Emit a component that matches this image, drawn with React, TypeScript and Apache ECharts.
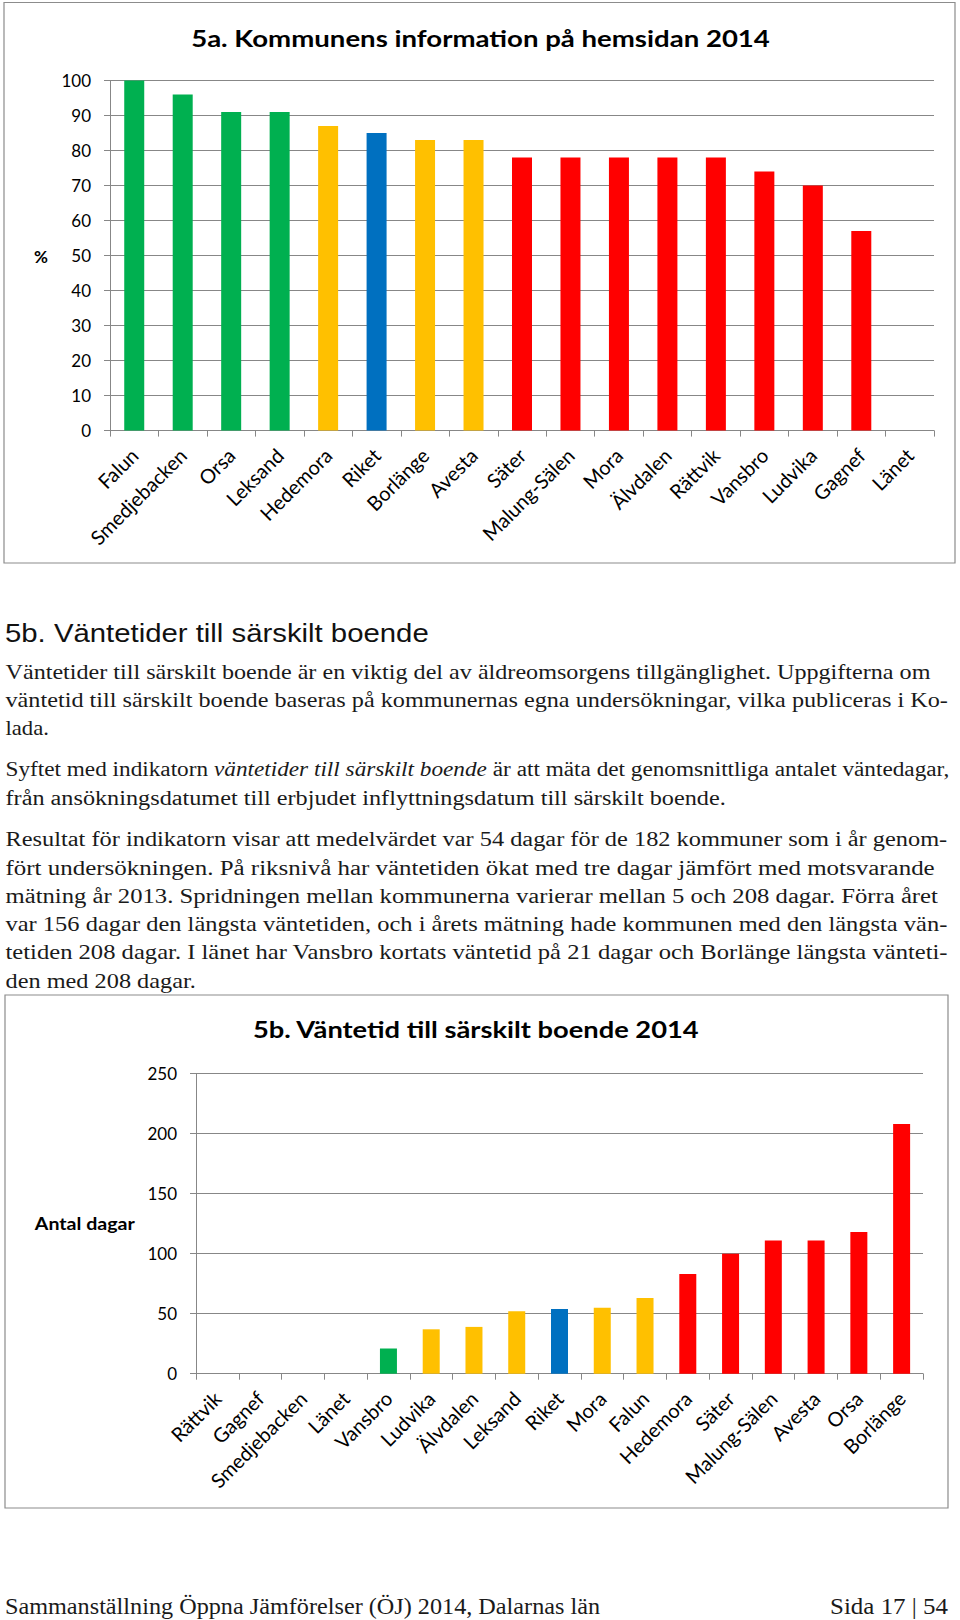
import React, { useEffect, useRef } from 'react';
import * as echarts from 'echarts';

// ---- Data: chart 5a ----
const cat5a = ['Falun', 'Smedjebacken', 'Orsa', 'Leksand', 'Hedemora', 'Riket', 'Borlänge', 'Avesta', 'Säter', 'Malung-Sälen', 'Mora', 'Älvdalen', 'Rättvik', 'Vansbro', 'Ludvika', 'Gagnef', 'Länet'];
const val5a: (number | null)[] = [100, 96, 91, 91, 87, 85, 83, 83, 78, 78, 78, 78, 78, 74, 70, 57, null];
const grp5a = ['green', 'green', 'green', 'green', 'yellow', 'riket', 'yellow', 'yellow', 'red', 'red', 'red', 'red', 'red', 'red', 'red', 'red', 'none'];
const yMax5a = 100;
const yStep5a = 10;

// ---- Data: chart 5b ----
const cat5b = ['Rättvik', 'Gagnef', 'Smedjebacken', 'Länet', 'Vansbro', 'Ludvika', 'Älvdalen', 'Leksand', 'Riket', 'Mora', 'Falun', 'Hedemora', 'Säter', 'Malung-Sälen', 'Avesta', 'Orsa', 'Borlänge'];
const val5b: (number | null)[] = [null, null, null, null, 21, 37, 39, 52, 54, 55, 63, 83, 100, 111, 111, 118, 208];
const grp5b = ['none', 'none', 'none', 'none', 'green', 'yellow', 'yellow', 'yellow', 'riket', 'yellow', 'yellow', 'red', 'red', 'red', 'red', 'red', 'red'];
const yMax5b = 250;
const yStep5b = 50;

// ---- Texts ----
const title5a = '5a. Kommunens information på hemsidan 2014';
const title5b = '5b. Väntetid till särskilt boende 2014';
const yName5a = '%';
const yName5b = 'Antal dagar';
const heading = '5b. Väntetider till särskilt boende';
const bodyLines: string[] = [
  '{n|Väntetider till särskilt boende är en viktig del av äldreomsorgens tillgänglighet. Uppgifterna om}',
  '{n|väntetid till särskilt boende baseras på kommunernas egna undersökningar, vilka publiceras i Ko-}',
  '{n|lada.}',
  '{n|Syftet med indikatorn }{i|väntetider till särskilt boende}{n| är att mäta det genomsnittliga antalet väntedagar,}',
  '{n|från ansökningsdatumet till erbjudet inflyttningsdatum till särskilt boende.}',
  '{n|Resultat för indikatorn visar att medelvärdet var 54 dagar för de 182 kommuner som i år genom-}',
  '{n|fört undersökningen. På riksnivå har väntetiden ökat med tre dagar jämfört med motsvarande}',
  '{n|mätning år 2013. Spridningen mellan kommunerna varierar mellan 5 och 208 dagar. Förra året}',
  '{n|var 156 dagar den längsta väntetiden, och i årets mätning hade kommunen med den längsta vän-}',
  '{n|tetiden 208 dagar. I länet har Vansbro kortats väntetid på 21 dagar och Borlänge längsta vänteti-}',
  '{n|den med 208 dagar.}',
];
const footerLeft = 'Sammanställning Öppna Jämförelser (ÖJ) 2014, Dalarnas län';
const footerRight = 'Sida 17 | 54';

// ---- Layout (page positions, not data) ----
const bodyY = [672, 700, 728.5, 770, 798, 839, 868, 896, 924, 952.5, 981.5];
const bodyRight = [930.7, 948, 49, 949, 726, 948, 935, 938, 948, 949, 196];
const BODY_X = 5.5;

const groupColor: Record<string, string> = {
  green: '#00B050',
  yellow: '#FFC000',
  riket: '#0070C0',
  red: '#FF0000',
  none: 'transparent',
};

const FONT = 'Lato';
const SERIF = 'Liberation Serif';
const SANS = 'Liberation Sans';
const GRID = '#878787';

function barData(vals: (number | null)[], grps: string[]) {
  return vals.map((v, i) => ({ value: v, itemStyle: { color: groupColor[grps[i]] } }));
}

function xAxisOpt(gridIndex: number, cats: string[]) {
  return {
    type: 'category',
    gridIndex,
    data: cats,
    boundaryGap: true,
    axisLine: { show: true, lineStyle: { color: GRID, width: 1 } },
    axisTick: { show: true, length: 6, lineStyle: { color: GRID, width: 1 }, interval: 0 },
    axisLabel: { rotate: 45, interval: 0, margin: 21, color: '#000', fontFamily: FONT, fontSize: 20 },
    splitLine: { show: false },
  };
}

function yAxisOpt(gridIndex: number, max: number, step: number) {
  return {
    type: 'value',
    gridIndex,
    min: 0,
    max,
    interval: step,
    axisLine: { show: true, lineStyle: { color: GRID, width: 1 } },
    axisTick: { show: true, length: 6, inside: false, lineStyle: { color: GRID, width: 1 } },
    axisLabel: { margin: 19, color: '#000', fontFamily: FONT, fontSize: 17 },
    splitLine: { show: true, lineStyle: { color: GRID, width: 1 } },
  };
}

export default function App() {
  const ref = useRef<HTMLDivElement>(null);
  useEffect(() => {
    if (!ref.current) return;
    const ctx = document.createElement('canvas').getContext('2d') as CanvasRenderingContext2D;
    const measure = (s: string, family: string, size: number, weight = 'normal', style = 'normal') => {
      ctx.font = `${style} ${weight} ${size}px "${family}"`;
      return ctx.measureText(s).width;
    };
    const fit = (s: string, family: string, size: number, target: number, weight = 'normal') => {
      const w = measure(s, family, size, weight);
      return w > 0 ? target / w : 1;
    };

    const chart = echarts.init(ref.current, undefined, { renderer: 'svg' });
    const BODY_SIZE = 20;
    const richStyles = {
      n: { fontFamily: SERIF, fontSize: BODY_SIZE, fill: '#1a1a1a' },
      i: { fontFamily: SERIF, fontSize: BODY_SIZE, fontStyle: 'italic', fill: '#1a1a1a' },
    };
    const bodyTexts = bodyLines.map((t, k) => {
      let w = 0;
      const re = /\{(\w)\|([^}]*)\}/g;
      let m: RegExpExecArray | null;
      while ((m = re.exec(t))) {
        w += measure(m[2], SERIF, BODY_SIZE, 'normal', m[1] === 'i' ? 'italic' : 'normal');
      }
      const sx = w > 0 ? (bodyRight[k] - BODY_X) / w : 1;
      return {
        type: 'text',
        x: BODY_X,
        y: bodyY[k],
        scaleX: sx,
        style: {
          text: t,
          rich: richStyles,
          textVerticalAlign: 'middle',
          textAlign: 'left',
          fontFamily: SERIF,
          fontSize: BODY_SIZE,
          fill: '#1a1a1a',
        },
      };
    });

    const label = (text: string, x: number, y: number, family: string, size: number, weight: string, align: string, target: number | null, fill = '#000') => ({
      type: 'text',
      x,
      y,
      scaleX: target ? fit(text, family, size, target, weight) : 1,
      style: { text, textAlign: align, textVerticalAlign: 'middle', fontFamily: family, fontWeight: weight, fontSize: size, fill },
    });

    chart.setOption({
      animation: false,
      backgroundColor: '#ffffff',
      grid: [
        { left: 110, right: 26, top: 80.6, height: 350, containLabel: false },
        { left: 196, right: 37, top: 1073.7, height: 300, containLabel: false },
      ],
      xAxis: [xAxisOpt(0, cat5a), xAxisOpt(1, cat5b)],
      yAxis: [yAxisOpt(0, yMax5a, yStep5a), yAxisOpt(1, yMax5b, yStep5b)],
      series: [
        { type: 'bar', xAxisIndex: 0, yAxisIndex: 0, barWidth: 20, data: barData(val5a, grp5a) },
        { type: 'bar', xAxisIndex: 1, yAxisIndex: 1, barWidth: 17, data: barData(val5b, grp5b) },
      ],
      graphic: [
        { type: 'rect', shape: { x: 4, y: 2.5, width: 951, height: 560.5 }, style: { fill: 'none', stroke: '#8c8c8c', lineWidth: 1.2 }, z: 0 },
        { type: 'rect', shape: { x: 5, y: 995, width: 943, height: 513 }, style: { fill: 'none', stroke: '#8c8c8c', lineWidth: 1.2 }, z: 0 },
        label(title5a, 480.5, 38, FONT, 22, 'bold', 'center', 579),
        label(yName5a, 41, 256, FONT, 17, 'bold', 'center', null),
        label(title5b, 475.8, 1030, FONT, 22, 'bold', 'center', 447),
        label(yName5b, 84.8, 1224, FONT, 17, 'bold', 'center', 100),
        label(heading, 5, 633, SANS, 26, 'normal', 'left', 424, '#111'),
        ...bodyTexts,
        label(footerLeft, 5, 1606, SERIF, 23, 'normal', 'left', 595, '#1a1a1a'),
        label(footerRight, 948, 1606, SERIF, 23, 'normal', 'right', 118, '#1a1a1a'),
      ],
    });
    return () => chart.dispose();
  }, []);
  return <div ref={ref} style={{ position: 'absolute', left: 0, top: 0, width: 960, height: 1620 }} />;
}
